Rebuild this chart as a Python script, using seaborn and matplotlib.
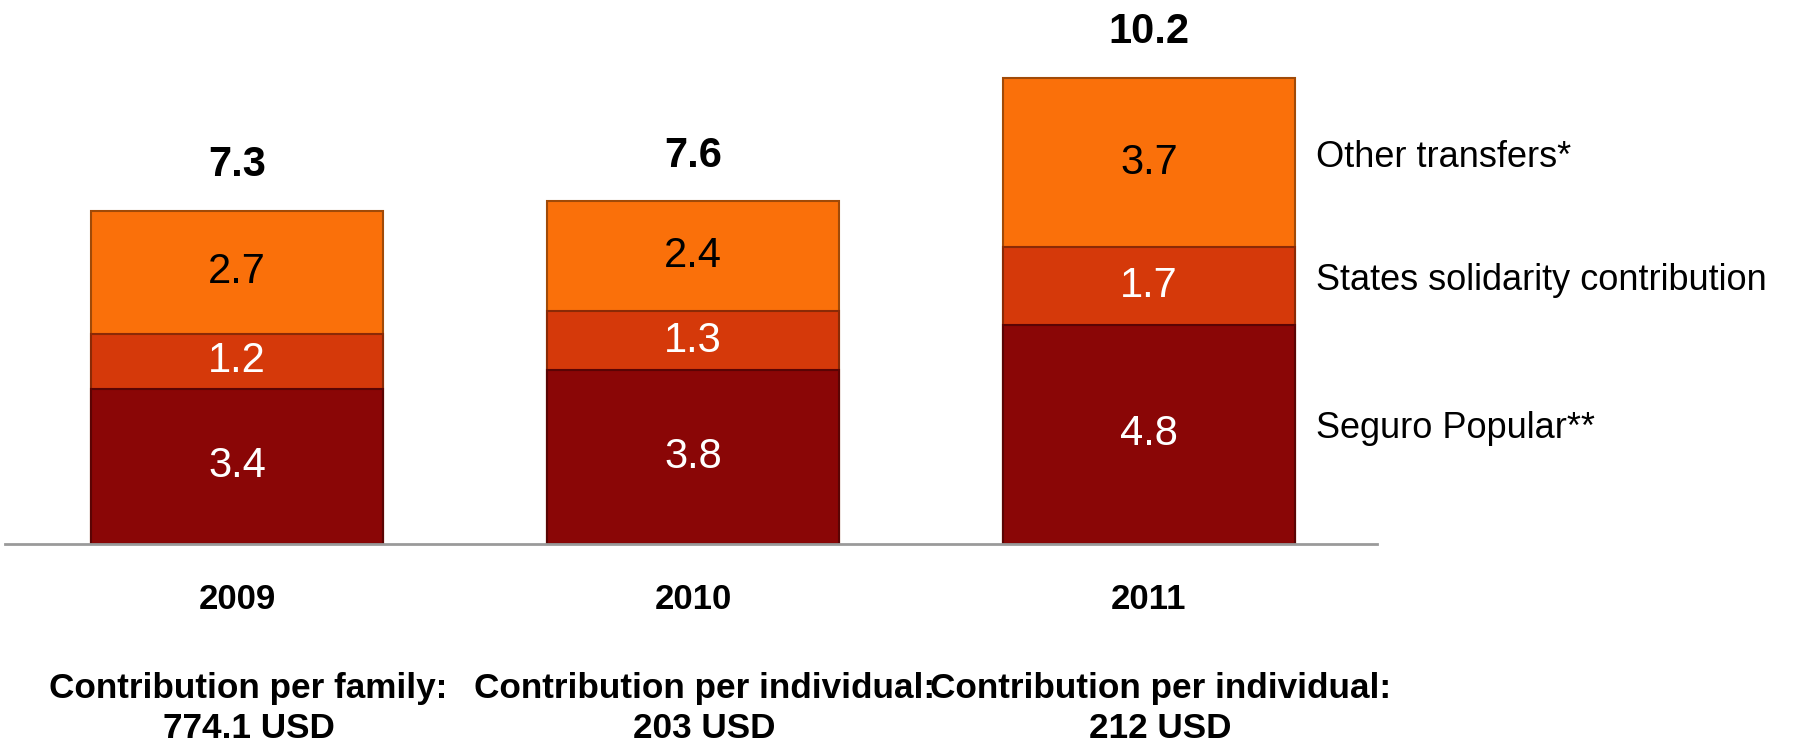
import matplotlib
matplotlib.use("Agg")
import matplotlib.pyplot as plt
import matplotlib.transforms as mtransforms
import seaborn as sns
import numpy as np
import pandas as pd

# Data
years   = ["2009", "2010", "2011"]
seguro  = [3.4, 3.8, 4.8]      # Seguro Popular**
states  = [1.2, 1.3, 1.7]      # States solidarity contribution
other   = [2.7, 2.4, 3.7]      # Other transfers*
totals  = ["7.3", "7.6", "10.2"]
series_names = ["Seguro Popular**", "States solidarity contribution", "Other transfers*"]
footer_top    = ["Contribution per family:", "Contribution per individual:", "Contribution per individual:"]
footer_bottom = ["774.1 USD", "203 USD", "212 USD"]

colors = ["#8A0606", "#D5390A", "#FA700A"]
edges  = ["#5a0404", "#8a2a06", "#a04a08"]

sns.set_theme(style="white")
plt.rcParams["font.family"] = ["Liberation Sans", "DejaVu Sans"]
plt.rcParams["text.color"] = "black"
plt.rcParams["xtick.color"] = "black"

df = pd.DataFrame({"year": years, "seguro": seguro, "states": states, "other": other})
df["cum1"] = df["seguro"]
df["cum2"] = df["seguro"] + df["states"]
df["cum3"] = df["cum2"] + df["other"]

fig = plt.figure(figsize=(17.99, 7.44), dpi=100)
ax = fig.add_axes([0.0026, 0.269, 0.7627, 0.731])

# stacked bars: draw the tallest first, then overlay the lower cumulative parts
for col, c, e in zip(["cum3", "cum2", "cum1"], colors[::-1], edges[::-1]):
    sns.barplot(data=df, x="year", y=col, color=c, width=0.64, ax=ax,
                edgecolor=e, linewidth=1.5, saturation=1)

# values inside segments
for i in range(len(years)):
    lows = [0, seguro[i], seguro[i] + states[i]]
    vals = [seguro[i], states[i], other[i]]
    for j, (lo, v) in enumerate(zip(lows, vals)):
        ax.text(i, lo + v / 2, f"{v:.1f}", ha="center", va="center",
                fontsize=30, color="black" if j == 2 else "white")
    ax.text(i, lows[2] + other[i] + 1.0, totals[i], ha="center", va="center",
            fontsize=30, fontweight="bold", color="black")

# series labels to the right of the last bar
last = len(years) - 1
lows = [0, seguro[last], seguro[last] + states[last]]
vals = [seguro[last], states[last], other[last]]
for name, lo, v in zip(series_names, lows, vals):
    ax.text(2.367, lo + v / 2 + 0.12, name, ha="left", va="center",
            fontsize=26, color="black", clip_on=False)

# footer lines under each year
trans = mtransforms.blended_transform_factory(ax.transData, fig.transFigure)
for i in range(len(years)):
    ax.text(i + 0.025, 0.075, footer_top[i], transform=trans, ha="center", va="center",
            fontsize=25.3, fontweight="bold", color="black", clip_on=False)
    ax.text(i + 0.025, 0.021, footer_bottom[i], transform=trans, ha="center", va="center",
            fontsize=25.3, fontweight="bold", color="black", clip_on=False)

ax.set_xlim(-0.51, 2.5)
ax.set_ylim(0, 11.91)
ax.set_xlabel("")
ax.set_ylabel("")
ax.set_yticks([])
ax.tick_params(axis="x", length=0, pad=28, labelsize=25, labelcolor="black")
for lbl in ax.get_xticklabels():
    lbl.set_fontweight("bold")
for s in ["top", "right", "left"]:
    ax.spines[s].set_visible(False)
ax.spines["bottom"].set_color("#9a9a9a")
ax.spines["bottom"].set_linewidth(2)

fig.savefig("out.png", dpi=100, facecolor="white")
